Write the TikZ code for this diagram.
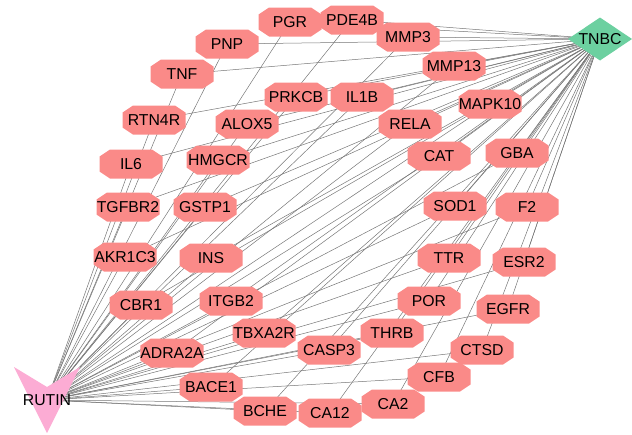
\documentclass[tikz,border=0pt]{standalone}
\usepackage{fontspec}
\setmainfont{Liberation Sans}
\usetikzlibrary{backgrounds}

\definecolor{genefill}{RGB}{250,138,136}
\definecolor{diseasefill}{RGB}{108,208,160}
\definecolor{drugfill}{RGB}{252,172,212}
\definecolor{edgegray}{RGB}{118,118,118}

% octagon filling the node's rectangle, corners cut
\newcommand{\octagonfill}{%
  \fill[genefill]
    ([xshift=10.5pt]path picture bounding box.north west) --
    ([xshift=-10.5pt]path picture bounding box.north east) --
    ([yshift=-7pt]path picture bounding box.north east) --
    ([yshift=7pt]path picture bounding box.south east) --
    ([xshift=-10.5pt]path picture bounding box.south east) --
    ([xshift=10.5pt]path picture bounding box.south west) --
    ([yshift=7pt]path picture bounding box.south west) --
    ([yshift=-7pt]path picture bounding box.north west) -- cycle;}

\tikzset{
  label font/.style={font=\fontsize{15.8}{18}\selectfont, text=black},
  gene/.style={rectangle, label font, minimum width=63pt, minimum height=29pt,
    inner sep=0pt, outer sep=0pt, path picture={\octagonfill}},
  disease/.style={rectangle, label font, minimum width=64pt, minimum height=43pt,
    inner sep=0pt, outer sep=0pt,
    path picture={\fill[diseasefill] (path picture bounding box.west) --
      (path picture bounding box.north) -- (path picture bounding box.east) --
      (path picture bounding box.south) -- cycle;}},
  drug/.style={rectangle, label font, minimum width=66pt, minimum height=66pt,
    inner sep=0pt, outer sep=0pt,
    path picture={\fill[drugfill] (path picture bounding box.north west) --
      ([xshift=33pt,yshift=-20pt]path picture bounding box.north west) --
      (path picture bounding box.north east) --
      (path picture bounding box.south) -- cycle;}},
  edge/.style={draw=edgegray, line width=0.5pt},
}

\begin{document}
\begin{tikzpicture}[x=1pt, y=-1pt]
\useasboundingbox (0,0) rectangle (632,434);

% hubs
\node[disease] (TNBC) at (600,39) {TNBC};
\node[drug] (RUTIN) at (47,400) {RUTIN};

% shared targets
\node[gene] (PGR)    at (290,22)  {PGR};
\node[gene] (PDE4B)  at (352,20)  {PDE4B};
\node[gene] (MMP3)   at (408,37)  {MMP3};
\node[gene] (PNP)    at (227,44)  {PNP};
\node[gene] (MMP13)  at (454,66)  {MMP13};
\node[gene] (TNF)    at (182,74)  {TNF};
\node[gene] (PRKCB)  at (296,97)  {PRKCB};
\node[gene] (IL1B)   at (362,97)  {IL1B};
\node[gene] (MAPK10) at (490,104) {MAPK10};
\node[gene] (RTN4R)  at (154,120) {RTN4R};
\node[gene] (ALOX5)  at (247,124) {ALOX5};
\node[gene] (RELA)   at (410,124) {RELA};
\node[gene] (IL6)    at (131,164) {IL6};
\node[gene] (HMGCR)  at (218,160) {HMGCR};
\node[gene] (CAT)    at (439,156) {CAT};
\node[gene] (GBA)    at (517,153) {GBA};
\node[gene] (TGFBR2) at (128,207) {TGFBR2};
\node[gene] (GSTP1)  at (205,207) {GSTP1};
\node[gene] (SOD1)   at (455,206) {SOD1};
\node[gene] (F2)     at (527,207) {F2};
\node[gene] (AKR1C3) at (125,257) {AKR1C3};
\node[gene] (INS)    at (211,258) {INS};
\node[gene] (TTR)    at (449,258) {TTR};
\node[gene] (ESR2)   at (524,262) {ESR2};
\node[gene] (CBR1)   at (141,305) {CBR1};
\node[gene] (ITGB2)  at (231,301) {ITGB2};
\node[gene] (POR)    at (429,301) {POR};
\node[gene] (EGFR)   at (508,309) {EGFR};
\node[gene] (TBXA2R) at (264,333) {TBXA2R};
\node[gene] (ADRA2A) at (172,353) {ADRA2A};
\node[gene] (CASP3)  at (329,350) {CASP3};
\node[gene] (THRB)   at (392,333) {THRB};
\node[gene] (CTSD)   at (482,350) {CTSD};
\node[gene] (CFB)    at (439,377) {CFB};
\node[gene] (BACE1)  at (211,387) {BACE1};
\node[gene] (CA2)    at (393,404) {CA2};
\node[gene] (BCHE)   at (265,411) {BCHE};
\node[gene] (CA12)   at (330,413) {CA12};

% every target is linked to both the disease and the compound
\begin{scope}[on background layer]
  \foreach \g in {PGR,PDE4B,MMP3,PNP,MMP13,TNF,PRKCB,IL1B,MAPK10,RTN4R,ALOX5,
                  RELA,IL6,HMGCR,CAT,GBA,TGFBR2,GSTP1,SOD1,F2,AKR1C3,INS,TTR,
                  ESR2,CBR1,ITGB2,POR,EGFR,TBXA2R,ADRA2A,CASP3,THRB,CTSD,CFB,
                  BACE1,CA2,BCHE,CA12}{
    \draw[edge] (TNBC.center) -- (\g.center);
    \draw[edge] (RUTIN.center) -- (\g.center);
  }
\end{scope}
\end{tikzpicture}
\end{document}
